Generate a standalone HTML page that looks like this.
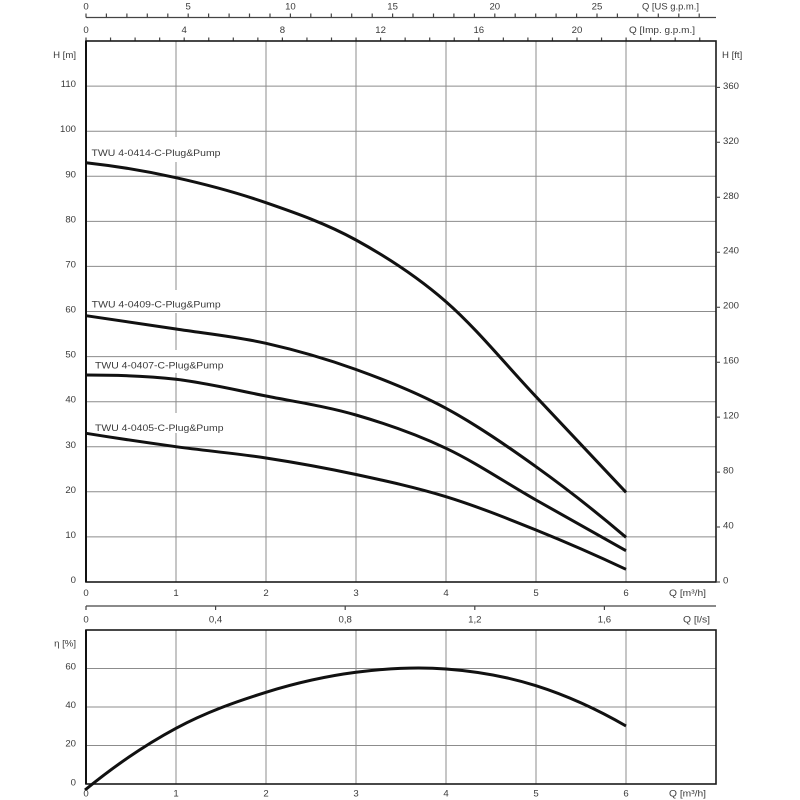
<!DOCTYPE html>
<html>
<head>
<meta charset="utf-8">
<style>
html,body{margin:0;padding:0;background:#fff;}
svg{display:block;}
text{font-family:"Liberation Sans",sans-serif;font-size:9.6px;fill:#3a3a3a;}
</style>
</head>
<body>
<svg width="800" height="800" viewBox="0 0 800 800" xmlns="http://www.w3.org/2000/svg">
<rect x="0" y="0" width="800" height="800" fill="#fff"/>

<!-- ===== Top axes ===== -->
<g stroke="#444" stroke-width="1.2" fill="none">
  <line x1="86" y1="17.5" x2="716" y2="17.5"/>
  <path d="M86,13.5V17.5M106.4,13.5V17.5M126.9,13.5V17.5M147.3,13.5V17.5M167.8,13.5V17.5M188.2,13.5V17.5M208.6,13.5V17.5M229.1,13.5V17.5M249.5,13.5V17.5M270,13.5V17.5M290.4,13.5V17.5M310.8,13.5V17.5M331.3,13.5V17.5M351.7,13.5V17.5M372.2,13.5V17.5M392.6,13.5V17.5M413,13.5V17.5M433.5,13.5V17.5M453.9,13.5V17.5M474.4,13.5V17.5M494.8,13.5V17.5M515.2,13.5V17.5M535.7,13.5V17.5M556.1,13.5V17.5M576.6,13.5V17.5M597,13.5V17.5M617.4,13.5V17.5M637.9,13.5V17.5M658.3,13.5V17.5M678.8,13.5V17.5M699.2,13.5V17.5"/>
  <path d="M86,37.5V41M110.55,37.5V41M135.1,37.5V41M159.65,37.5V41M184.2,37.5V41M208.75,37.5V41M233.3,37.5V41M257.85,37.5V41M282.4,37.5V41M306.95,37.5V41M331.5,37.5V41M356.05,37.5V41M380.6,37.5V41M405.15,37.5V41M429.7,37.5V41M454.25,37.5V41M478.8,37.5V41M503.35,37.5V41M527.9,37.5V41M552.45,37.5V41M577,37.5V41M601.55,37.5V41M626.1,37.5V41M650.65,37.5V41M675.2,37.5V41M699.75,37.5V41"/>
</g>
<g text-anchor="middle">
  <text x="86" y="9.5">0</text>
  <text x="188.2" y="9.5">5</text>
  <text x="290.4" y="9.5">10</text>
  <text x="392.6" y="9.5">15</text>
  <text x="494.8" y="9.5">20</text>
  <text x="597" y="9.5">25</text>
  <text x="86" y="33">0</text>
  <text x="184.2" y="33">4</text>
  <text x="282.4" y="33">8</text>
  <text x="380.6" y="33">12</text>
  <text x="478.8" y="33">16</text>
  <text x="577" y="33">20</text>
</g>
<text x="642" y="9.5" textLength="57" lengthAdjust="spacingAndGlyphs">Q [US g.p.m.]</text>
<text x="629" y="33" textLength="66" lengthAdjust="spacingAndGlyphs">Q [Imp. g.p.m.]</text>

<!-- ===== Main chart grid ===== -->
<g stroke="#8c8c8c" stroke-width="1" fill="none">
  <path d="M87,86.1H716M87,131.2H716M87,176.3H716M87,221.4H716M87,266.4H716M87,311.5H716M87,356.6H716M87,401.7H716M87,446.8H716M87,491.8H716M87,536.9H716"/>
  <path d="M176,41V137M176,162V290M176,313V350M176,373V413M176,433V582"/>
  <path d="M266,41V582M356,41V582M446,41V582M536,41V582M626,41V582"/>
</g>
<rect x="86" y="41" width="630" height="541" fill="none" stroke="#1a1a1a" stroke-width="1.6"/>
<line x1="86" y1="41" x2="86" y2="582" stroke="#111" stroke-width="2"/>

<!-- left H labels -->
<g text-anchor="end">
  <text x="76" y="58">H [m]</text>
  <text x="76" y="87.1">110</text>
  <text x="76" y="132.2">100</text>
  <text x="76" y="177.3">90</text>
  <text x="76" y="222.4">80</text>
  <text x="76" y="267.4">70</text>
  <text x="76" y="312.5">60</text>
  <text x="76" y="357.6">50</text>
  <text x="76" y="402.7">40</text>
  <text x="76" y="447.8">30</text>
  <text x="76" y="492.8">20</text>
  <text x="76" y="537.9">10</text>
  <text x="76" y="583">0</text>
</g>

<!-- right ft axis -->
<g stroke="#333" stroke-width="1">
  <path d="M717,582H720M717,527H720M717,472.1H720M717,417.1H720M717,362.2H720M717,307.2H720M717,252.2H720M717,197.3H720M717,142.3H720M717,87.4H720"/>
</g>
<g>
  <text x="722" y="58">H [ft]</text>
  <text x="723" y="89">360</text>
  <text x="723" y="143.8">320</text>
  <text x="723" y="198.8">280</text>
  <text x="723" y="253.7">240</text>
  <text x="723" y="308.7">200</text>
  <text x="723" y="363.7">160</text>
  <text x="723" y="418.6">120</text>
  <text x="723" y="473.6">80</text>
  <text x="723" y="528.5">40</text>
  <text x="723" y="583.5">0</text>
</g>

<!-- curves -->
<g stroke="#111" stroke-width="3" fill="none" stroke-linecap="butt" stroke-linejoin="round">
  <path d="M86,162.7 C116,166.03 146,171.03 176,177.7 C206,184.37 236,192.32 266,202.7 C296,213.08 326,223.5 356,240 C386,256.5 416,275.58 446,301.7 C476,327.82 506,364.93 536,396.7 C566,428.47 596,460.33 626,492.3"/>
  <path d="M86,315.7 C116,319.97 146,324.4 176,329 C206,333.6 236,336.55 266,343.3 C296,350.05 326,358.67 356,369.5 C386,380.33 416,392.1 446,408.3 C476,424.5 506,445.2 536,466.7 C566,488.2 596,511.73 626,537.3"/>
  <path d="M86,375 C116,375 146,375.8 176,379.3 C206,382.8 236,390.05 266,396 C296,401.95 326,406.28 356,415 C386,423.72 416,434.13 446,448.3 C476,462.47 506,482.93 536,500 C566,517.07 596,533.97 626,550.7"/>
  <path d="M86,433.3 C116,438.12 146,442.58 176,446.7 C206,450.82 236,453.37 266,458 C296,462.63 326,468.05 356,474.5 C386,480.95 416,487.45 446,496.7 C476,505.95 506,517.9 536,530 C566,542.1 596,555.2 626,569.3"/>
</g>

<!-- curve labels -->
<text x="91.5" y="155.8" textLength="129" lengthAdjust="spacingAndGlyphs">TWU 4-0414-C-Plug&amp;Pump</text>
<text x="91.7" y="307.5" textLength="129" lengthAdjust="spacingAndGlyphs">TWU 4-0409-C-Plug&amp;Pump</text>
<text x="95" y="368.5" textLength="128.5" lengthAdjust="spacingAndGlyphs">TWU 4-0407-C-Plug&amp;Pump</text>
<text x="95" y="430.8" textLength="128.5" lengthAdjust="spacingAndGlyphs">TWU 4-0405-C-Plug&amp;Pump</text>

<!-- bottom main labels -->
<g text-anchor="middle">
  <text x="86" y="596">0</text>
  <text x="176" y="596">1</text>
  <text x="266" y="596">2</text>
  <text x="356" y="596">3</text>
  <text x="446" y="596">4</text>
  <text x="536" y="596">5</text>
  <text x="626" y="596">6</text>
</g>
<text x="669" y="596" textLength="37" lengthAdjust="spacingAndGlyphs">Q [m³/h]</text>

<!-- l/s axis -->
<g stroke="#444" stroke-width="1.2" fill="none">
  <line x1="86" y1="606" x2="716" y2="606"/>
  <path d="M86,606V610M215.6,606V610M345.2,606V610M474.8,606V610M604.4,606V610"/>
</g>
<g text-anchor="middle">
  <text x="86" y="622.5">0</text>
  <text x="215.6" y="622.5">0,4</text>
  <text x="345.2" y="622.5">0,8</text>
  <text x="474.8" y="622.5">1,2</text>
  <text x="604.4" y="622.5">1,6</text>
</g>
<text x="683" y="622.5" textLength="27" lengthAdjust="spacingAndGlyphs">Q [l/s]</text>

<!-- ===== Efficiency chart ===== -->
<g stroke="#8c8c8c" stroke-width="1" fill="none">
  <path d="M87,668.5H716M87,707H716M87,745.5H716"/>
  <path d="M176,630V784M266,630V784M356,630V784M446,630V784M536,630V784M626,630V784"/>
</g>
<rect x="86" y="630" width="630" height="154" fill="none" stroke="#1a1a1a" stroke-width="1.6"/>
<line x1="86" y1="630" x2="86" y2="784" stroke="#111" stroke-width="2"/>

<g text-anchor="end">
  <text x="76" y="646.5">η [%]</text>
  <text x="76" y="669.5">60</text>
  <text x="76" y="708">40</text>
  <text x="76" y="746.5">20</text>
  <text x="76" y="785.5">0</text>
</g>

<path d="M85,790 C116,764.65 146,744.42 176,728.3 C206,712.18 236,701.63 266,692.3 C296,682.97 326,676.18 356,672.3 C386,668.42 416,666.77 446,669 C476,671.23 506,676.2 536,685.7 C566,695.2 596,708.63 626,726" stroke="#111" stroke-width="3" fill="none"/>

<g text-anchor="middle">
  <text x="86" y="796.5">0</text>
  <text x="176" y="796.5">1</text>
  <text x="266" y="796.5">2</text>
  <text x="356" y="796.5">3</text>
  <text x="446" y="796.5">4</text>
  <text x="536" y="796.5">5</text>
  <text x="626" y="796.5">6</text>
</g>
<text x="669" y="796.5" textLength="37" lengthAdjust="spacingAndGlyphs">Q [m³/h]</text>
</svg>
</body>
</html>
